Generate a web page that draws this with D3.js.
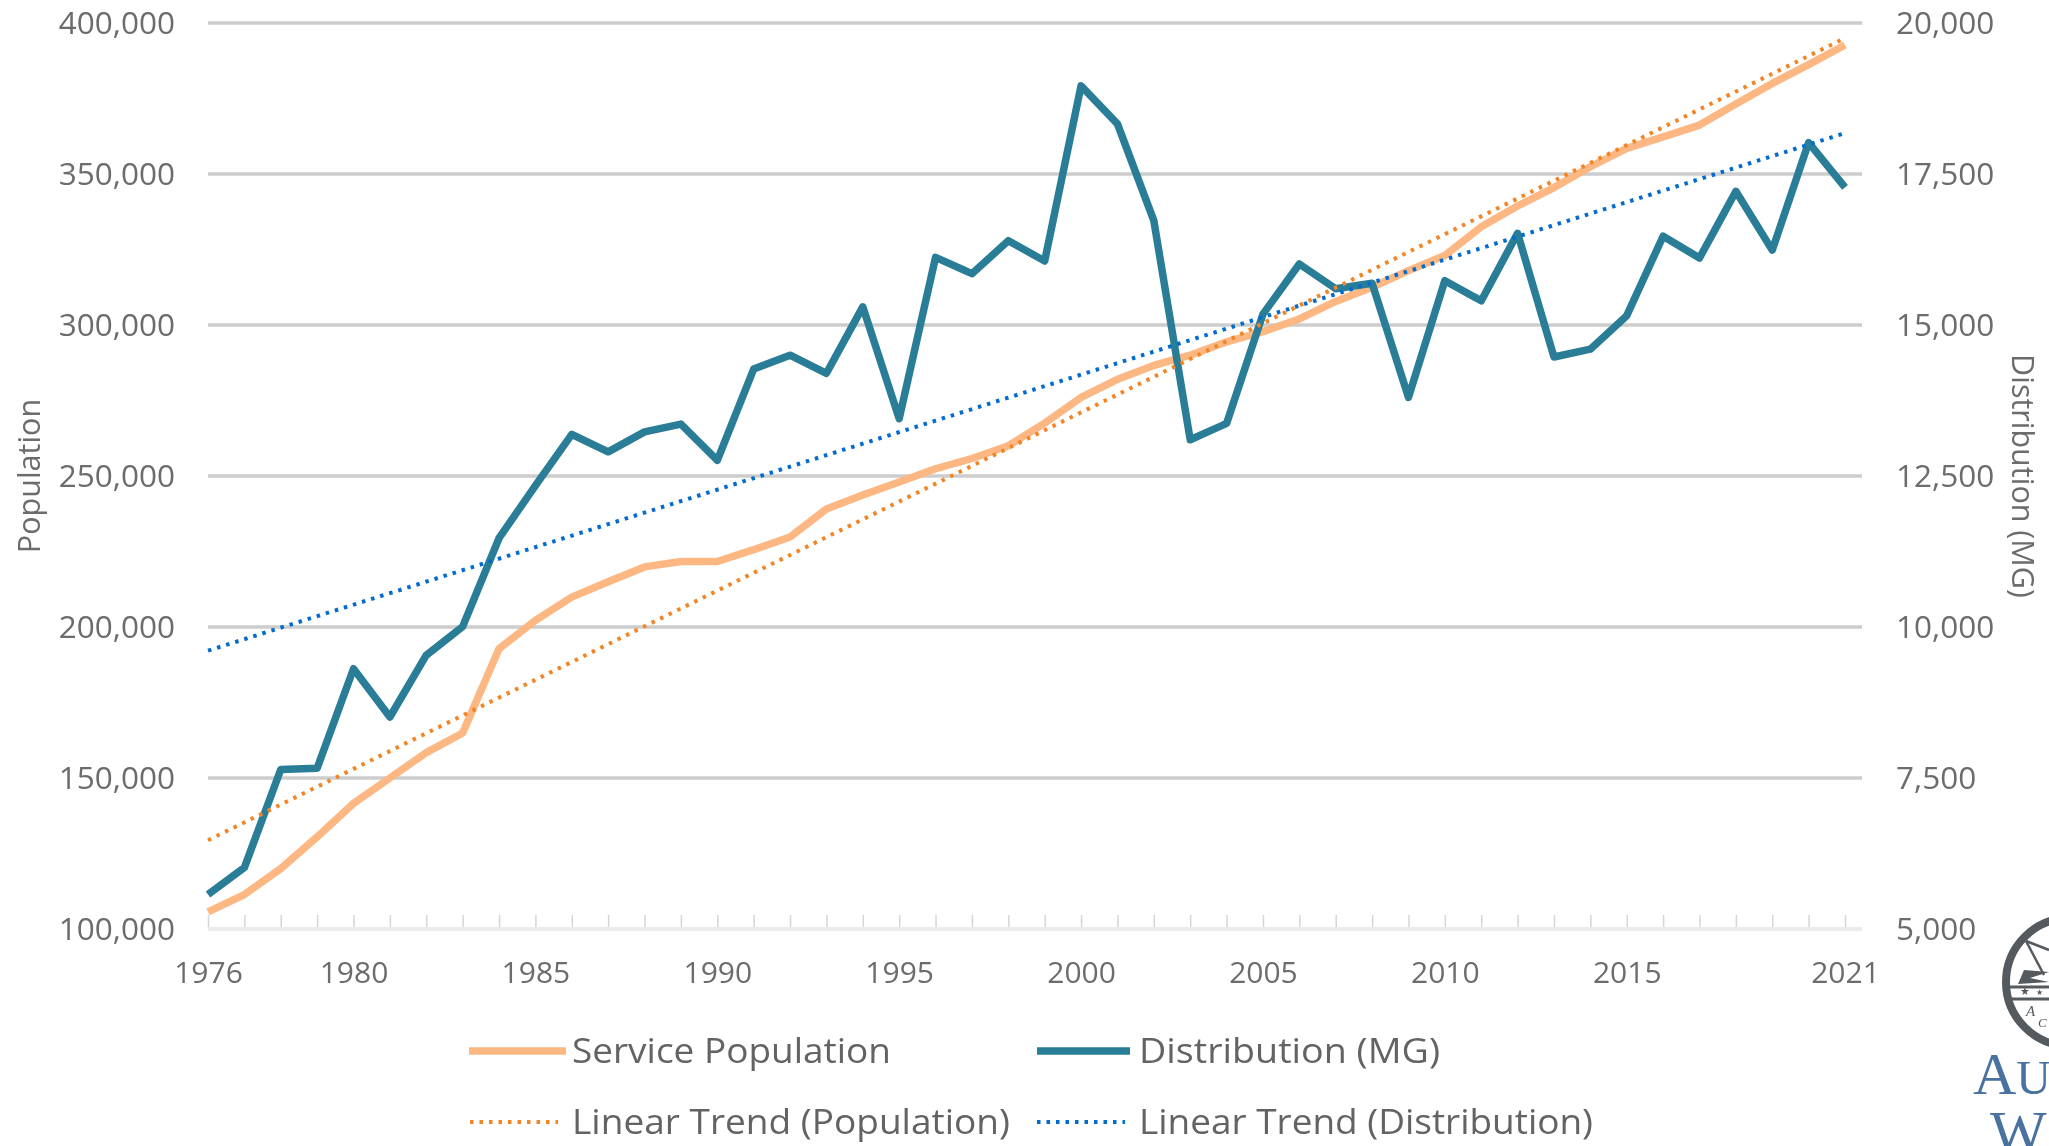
<!DOCTYPE html>
<html><head><meta charset="utf-8">
<script src="https://cdn.jsdelivr.net/npm/d3@7"></script>
<style>html,body{margin:0;padding:0;background:#fff;overflow:hidden}svg{display:block}</style>
</head><body><svg id="c" width="2049" height="1146"></svg>
<script>
const years = d3.range(1976, 2022);
const population = [105700,111400,120000,130500,141600,150000,158400,164900,192800,202200,209900,215000,219900,221700,221700,225600,229800,239100,243700,248000,252400,255800,260000,267500,276000,282000,286600,290000,294400,297800,302000,307800,312500,318000,323000,332500,339400,345500,352400,358500,362300,366200,373200,380000,386200,392700];
const distribution = [5570,6017,7640,7660,9310,8510,9533,10007,11470,12340,13190,12900,13230,13360,12760,14270,14500,14200,15300,13450,16120,15850,16396,16060,18960,18330,16727,13100,13370,15180,16010,15600,15690,13800,15734,15400,16518,14470,14600,15155,16470,16110,17213,16240,18020,17280];
const trendYears = [1976, 2021];
const populationTrend = [129400, 395000];
const distributionTrend = [9608, 18177];
const xTickLabels = [1976,1980,1985,1990,1995,2000,2005,2010,2015,2021];
const popTicks = [100000,150000,200000,250000,300000,350000,400000];
const distTicks = [5000,7500,10000,12500,15000,17500,20000];

const FONT = '"Open Sans", sans-serif', GREY = '#6c6c6c';
const TEAL = '#2a7d96', PEACH = '#fdb782', ORANGE = '#f28526', BLUE = '#066cd0';

const svg = d3.select('#c');
const defs = svg.append('defs');
defs.append('filter').attr('id','soft')
  .attr('filterUnits','userSpaceOnUse').attr('x',0).attr('y',0).attr('width',2049).attr('height',1146)
  .append('feGaussianBlur').attr('stdDeviation',0.7);
const root = svg.append('g').attr('filter','url(#soft)');
root.append('rect').attr('width',2049).attr('height',1146).attr('fill','#fff');

const x = d3.scaleLinear().domain([1976,2021]).range([208,1845]);
const yP = d3.scaleLinear().domain([100000,400000]).range([929,23]);
const yD = d3.scaleLinear().domain([5000,20000]).range([929,23]);
const gridEnd = 1862;

// gridlines
root.append('g').selectAll('line').data(popTicks.slice(1)).join('line')
  .attr('x1',208).attr('x2',gridEnd).attr('y1',d=>yP(d)).attr('y2',d=>yP(d))
  .attr('stroke','#cdcdcd').attr('stroke-width',3.5);

// x axis: baseline plus yearly ticks, labels on selected years
const axX = root.append('g').attr('transform','translate(0,928)')
  .call(d3.axisBottom(x).tickValues(years).tickSize(-13).tickFormat(''));
axX.select('.domain').remove();
axX.selectAll('line').attr('stroke','#d6d6d6').attr('stroke-width',1.5);
root.append('line').attr('x1',208).attr('x2',gridEnd).attr('y1',929).attr('y2',929)
  .attr('stroke','#ececec').attr('stroke-width',4);

const axXL = root.append('g').attr('transform','translate(0,928)')
  .call(d3.axisBottom(x).tickValues(xTickLabels).tickSize(0).tickPadding(34).tickFormat(d3.format('d')));
axXL.select('.domain').remove();
axXL.selectAll('text').attr('font-family',FONT).attr('font-size',30).attr('fill',GREY);

// y axes
const axL = root.append('g').attr('transform','translate(208,0)')
  .call(d3.axisLeft(yP).tickValues(popTicks).tickSize(0).tickPadding(33).tickFormat(d3.format(',')));
axL.select('.domain').remove();
axL.selectAll('text').attr('font-family',FONT).attr('font-size',31.5).attr('fill',GREY);
const axR = root.append('g').attr('transform','translate(1862,0)')
  .call(d3.axisRight(yD).tickValues(distTicks).tickSize(0).tickPadding(34).tickFormat(d3.format(',')));
axR.select('.domain').remove();
axR.selectAll('text').attr('font-family',FONT).attr('font-size',31.5).attr('fill',GREY);

// axis titles
root.append('text').attr('transform','translate(28,476) rotate(-90)').attr('text-anchor','middle')
  .attr('dominant-baseline','central').attr('font-family',FONT).attr('font-size',30.5).attr('fill',GREY).text('Population');
root.append('text').attr('transform','translate(2024,476) rotate(90)').attr('text-anchor','middle')
  .attr('dominant-baseline','central').attr('font-family',FONT).attr('font-size',30.5).attr('fill',GREY).text('Distribution (MG)');

// series
const lineP = d3.line().x((d,i)=>x(years[i])).y(d=>yP(d));
const lineD = d3.line().x((d,i)=>x(years[i])).y(d=>yD(d));
const tP = d3.line().x((d,i)=>x(trendYears[i])).y(d=>yP(d));
const tD = d3.line().x((d,i)=>x(trendYears[i])).y(d=>yD(d));
const add = (dstr,color,w,dash) => root.append('path').attr('d',dstr).attr('fill','none')
  .attr('stroke',color).attr('stroke-width',w).attr('stroke-linejoin','round')
  .attr('stroke-dasharray',dash||null);
add(lineP(population),PEACH,7.5);
add(lineD(distribution),TEAL,7.5);
add(tP(populationTrend),ORANGE,4,'3.5 6');
add(tD(distributionTrend),BLUE,4,'3.5 6');

// legend
const legend = [
 {label:'Service Population',x1:469,x2:566,tx:572,tw:319,y:1051,c:PEACH,w:7.5},
 {label:'Distribution (MG)',x1:1037,x2:1130,tx:1139,tw:301,y:1051,c:TEAL,w:7.5},
 {label:'Linear Trend (Population)',x1:470,x2:558,tx:572,tw:438,y:1122,c:ORANGE,w:4,dash:'3.5 6'},
 {label:'Linear Trend (Distribution)',x1:1037,x2:1125,tx:1139,tw:454,y:1122,c:BLUE,w:4,dash:'3.5 6'}
];
const lg = root.append('g').selectAll('g').data(legend).join('g');
lg.append('line').attr('x1',d=>d.x1).attr('x2',d=>d.x2).attr('y1',d=>d.y).attr('y2',d=>d.y)
  .attr('stroke',d=>d.c).attr('stroke-width',d=>d.w).attr('stroke-dasharray',d=>d.dash||null);
lg.append('text').attr('x',d=>d.tx).attr('y',d=>d.y-2).attr('dominant-baseline','central')
  .attr('font-family',FONT).attr('font-size',35).attr('fill','#646464')
  .attr('textLength',d=>d.tw).attr('lengthAdjust','spacingAndGlyphs').text(d=>d.label);

// logo, cut by the page edge
const logo = root.append('g').attr('stroke','#555a5e').attr('fill','none');
logo.append('circle').attr('cx',2070).attr('cy',982).attr('r',64).attr('stroke-width',8);
logo.append('line').attr('x1',2006).attr('x2',2049).attr('y1',987).attr('y2',987).attr('stroke-width',3);
logo.append('line').attr('x1',2006).attr('x2',2049).attr('y1',999).attr('y2',999).attr('stroke-width',3);
logo.append('line').attr('x1',2026).attr('x2',2049).attr('y1',941).attr('y2',950).attr('stroke-width',2.5);
logo.append('line').attr('x1',2026).attr('x2',2044).attr('y1',941).attr('y2',975).attr('stroke-width',2.5);
logo.append('path').attr('d','M2024 970 L2049 972 L2030 978 L2049 982 L2018 984 Z').attr('fill','#555a5e').attr('stroke','none');
logo.append('text').attr('x',2020).attr('y',995).attr('font-size',11).attr('fill','#555a5e').attr('stroke','none').text('★');
logo.append('text').attr('x',2036).attr('y',995).attr('font-size',8).attr('fill','#555a5e').attr('stroke','none').text('★');
logo.append('text').attr('x',2026).attr('y',1016).attr('font-size',15).attr('font-family','"Liberation Serif"').attr('font-style','italic').attr('fill','#555a5e').attr('stroke','none').text('A');
logo.append('text').attr('x',2038).attr('y',1027).attr('font-size',13).attr('font-family','"Liberation Serif"').attr('font-style','italic').attr('fill','#555a5e').attr('stroke','none').text('C');

const serif = '"Liberation Serif", serif', LOGOBLUE = '#4a72a1';
const au = root.append('text').attr('x',1973).attr('y',1094).attr('font-family',serif).attr('font-size',60).attr('fill',LOGOBLUE);
au.append('tspan').text('A');
au.append('tspan').attr('font-size',48).text('U');
const wa = root.append('text').attr('x',1990).attr('y',1152).attr('font-family',serif).attr('font-size',60).attr('fill',LOGOBLUE);
wa.append('tspan').text('W');
wa.append('tspan').attr('font-size',48).text('A');
</script></body></html>
